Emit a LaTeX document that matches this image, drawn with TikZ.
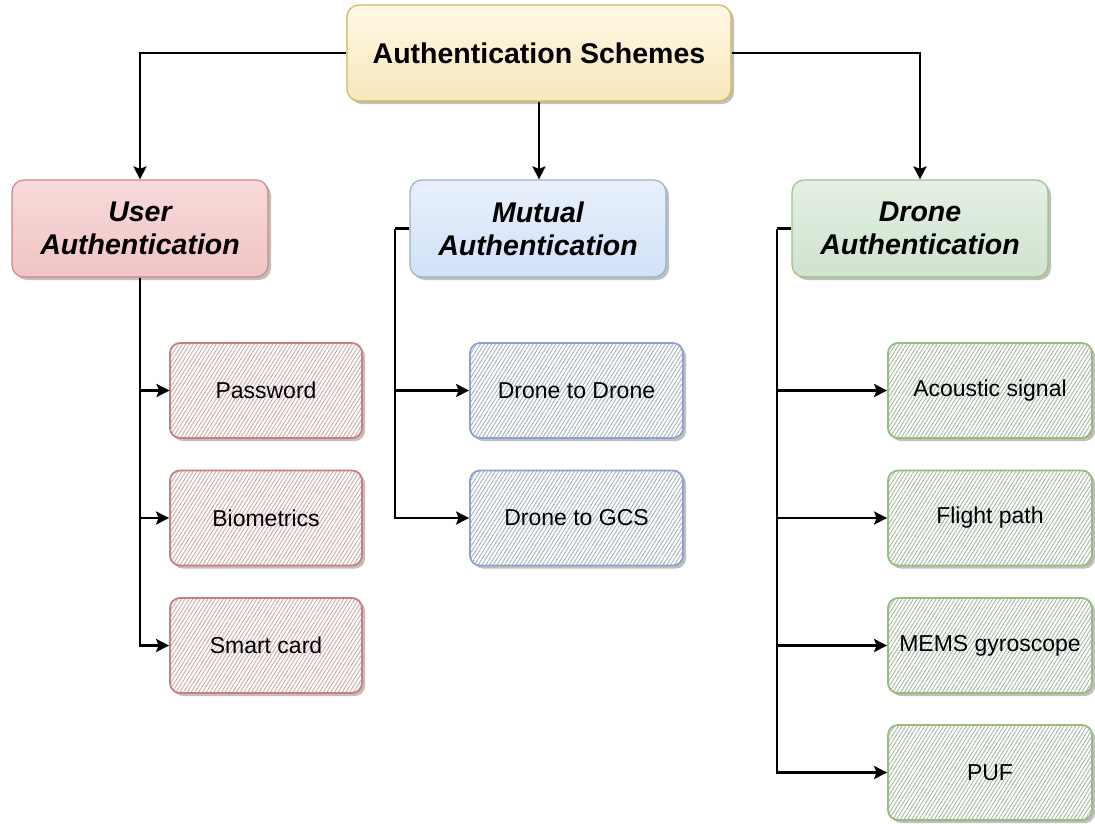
\documentclass[tikz,border=0pt]{standalone}
\usepackage{fontspec}
\setmainfont{Liberation Sans}
\usetikzlibrary{arrows.meta,shadows,patterns.meta}

\definecolor{topfillA}{HTML}{FFF8E4}
\definecolor{topfillB}{HTML}{F7E7BC}
\definecolor{topdraw}{HTML}{D6B656}
\definecolor{redfillA}{HTML}{F9DADA}
\definecolor{redfillB}{HTML}{F0C4C4}
\definecolor{reddraw}{HTML}{B85450}
\definecolor{bluefillA}{HTML}{E8F0FC}
\definecolor{bluefillB}{HTML}{D2E1F7}
\definecolor{bluedraw}{HTML}{6C8EBF}
\definecolor{greenfillA}{HTML}{E4F0E3}
\definecolor{greenfillB}{HTML}{CFE3CE}
\definecolor{greendraw}{HTML}{82B366}
\definecolor{redhatch}{HTML}{CFA9A9}
\definecolor{bluehatch}{HTML}{A6B2C2}
\definecolor{greenhatch}{HTML}{A6B8A5}

\tikzset{
  softshadow/.style={drop shadow={shadow xshift=3pt,shadow yshift=-3pt,opacity=0.25,fill=black}},
  rootbox/.style={rectangle,rounded corners=12pt,minimum width=384pt,minimum height=96pt,
    softshadow,top color=topfillA,bottom color=topfillB,draw=topdraw,line width=1.2pt,
    font=\fontsize{28.5}{32}\selectfont\bfseries},
  catbox/.style={rectangle,rounded corners=12pt,minimum width=256pt,minimum height=97pt,
    softshadow,line width=1.2pt,align=center,
    font=\fontsize{28.5}{33}\selectfont\bfseries\itshape},
  usercat/.style={catbox,top color=redfillA,bottom color=redfillB,draw=reddraw!70},
  mutcat/.style={catbox,top color=bluefillA,bottom color=bluefillB,draw=bluedraw!70},
  dronecat/.style={catbox,top color=greenfillA,bottom color=greenfillB,draw=greendraw!80},
  leafbox/.style={rectangle,rounded corners=10pt,minimum height=95pt,line width=1.8pt,
    softshadow,preaction={fill=white},
    pattern={Lines[angle=58,distance=3.2pt,line width=0.9pt]},
    font=\fontsize{23}{27}\selectfont},
  userleaf/.style={leafbox,minimum width=192pt,draw=reddraw!75,pattern color=redhatch},
  mutleaf/.style={leafbox,minimum width=213pt,draw=bluedraw!80,pattern color=bluehatch},
  droneleaf/.style={leafbox,minimum width=204pt,draw=greendraw!85,pattern color=greenhatch},
  link/.style={line width=2.5pt,draw=black},
  arrowlink/.style={link,-{Stealth[length=13pt,width=13pt,inset=2.5pt]}}
}

\begin{document}
\begin{tikzpicture}[x=1pt,y=-1pt]
  \useasboundingbox (0,0) rectangle (1095,823);

  % root and categories
  \node[rootbox] (root) at (539,53) {Authentication Schemes};
  \node[usercat] (user) at (140,228.5) {User\\Authentication};
  \node[mutcat] (mutual) at (538,228.5) {Mutual\\Authentication};
  \node[dronecat] (drone) at (920,228.5) {Drone\\Authentication};

  % user authentication methods
  \node[userleaf] (pw) at (266,390.5) {Password};
  \node[userleaf] (bio) at (266,518) {Biometrics};
  \node[userleaf] (card) at (266,645.5) {Smart card};

  % mutual authentication methods
  \node[mutleaf] (d2d) at (576.5,390.5) {Drone to Drone};
  \node[mutleaf] (d2g) at (576.5,518) {Drone to GCS};

  % drone authentication methods
  \node[droneleaf] (acoustic) at (990,390.5) {Acoustic signal};
  \node[droneleaf] (flight) at (990,518) {Flight path};
  \node[droneleaf] (mems) at (990,645.5) {MEMS gyroscope};
  \node[droneleaf] (puf) at (990,772.5) {PUF};

  % root to categories
  \draw[arrowlink] (root.west) -| (user.north);
  \draw[arrowlink] (root.south) -- (root.south |- mutual.north);
  \draw[arrowlink] (root.east) -| (drone.north);

  % user trunk
  \draw[arrowlink] (user.south) |- (pw.west);
  \draw[arrowlink] (user.south) |- (bio.west);
  \draw[arrowlink] (user.south) |- (card.west);

  % mutual trunk
  \coordinate (mtrunk) at (395,228.5);
  \draw[link] (mutual.west) -- (mtrunk);
  \draw[arrowlink] (mtrunk) |- (d2d.west);
  \draw[arrowlink] (mtrunk) |- (d2g.west);

  % drone trunk
  \coordinate (dtrunk) at (777,228.5);
  \draw[link] (drone.west) -- (dtrunk);
  \draw[arrowlink] (dtrunk) |- (acoustic.west);
  \draw[arrowlink] (dtrunk) |- (flight.west);
  \draw[arrowlink] (dtrunk) |- (mems.west);
  \draw[arrowlink] (dtrunk) |- (puf.west);
\end{tikzpicture}
\end{document}
